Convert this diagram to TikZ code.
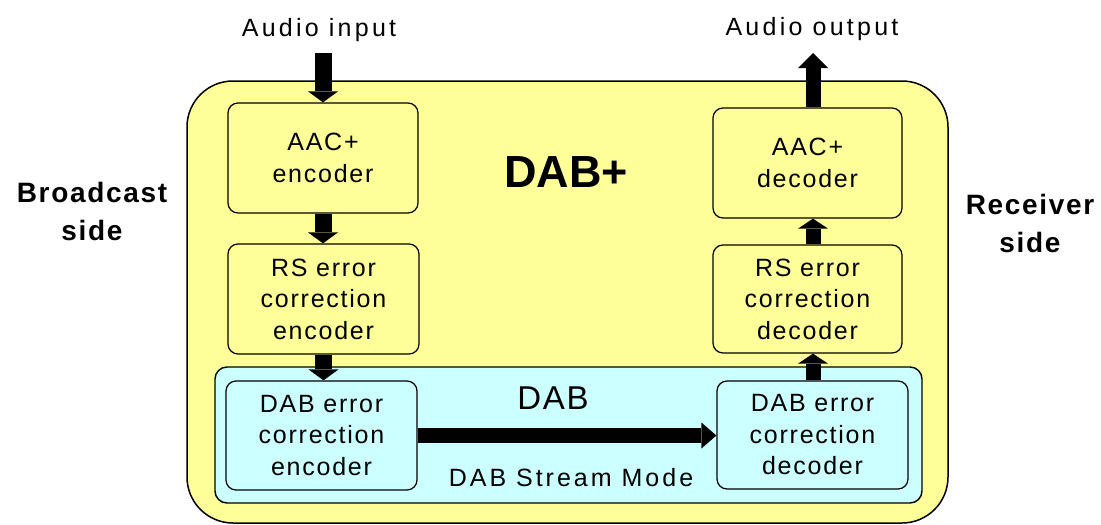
\documentclass[tikz,border=0pt]{standalone}
\usepackage{fontspec}
\setmainfont{Liberation Sans}
\newfontfamily\boxfont[LetterSpace=7]{Liberation Sans}
\newfontfamily\iofont[LetterSpace=13]{Liberation Sans}
\newfontfamily\sidefont[LetterSpace=6]{Liberation Sans}
\newfontfamily\streamfont[LetterSpace=12]{Liberation Sans}
\newfontfamily\titlefont[LetterSpace=5]{Liberation Sans}
\usetikzlibrary{arrows.meta}
\definecolor{dabyellow}{HTML}{FFFF99}
\definecolor{dabblue}{HTML}{CCFFFF}
\begin{document}
\begin{tikzpicture}[x=1pt,y=-1pt,
  outerbox/.style={draw=black, line width=1.5pt, fill=dabyellow, rounded corners=46pt, inner sep=0pt},
  bluebox/.style={draw=black, line width=1.4pt, fill=dabblue, rounded corners=12pt, inner sep=0pt},
  blk/.style={draw=black, line width=1.2pt, rounded corners=10pt, inner sep=0pt, align=center,
    font=\boxfont\fontsize{25}{31.5}\selectfont},
  iotext/.style={font=\iofont\fontsize{25}{30}\selectfont, inner sep=0pt},
  sidetext/.style={align=center, inner sep=0pt, font=\sidefont\bfseries\fontsize{28}{38}\selectfont},
  downarr/.style={draw=black, line width=17pt, -{Triangle[width=30pt,length=11pt,line width=0pt]}},
  uparr/.style={draw=black, line width=15pt, -{Triangle[width=30pt,length=10pt,line width=0pt]}},
  outarr/.style={draw=black, line width=15pt, -{Triangle[width=30pt,length=15pt,line width=0pt]}},
  horarr/.style={draw=black, line width=15pt, -{Triangle[width=26pt,length=15pt,line width=0pt]}}
]
\useasboundingbox (0,0) rectangle (1101,525);
\fill[white] (0,0) rectangle (1101,525);

% containers
\node[outerbox, minimum width=761pt, minimum height=442pt] (dabplus) at (567.5,302) {};
\node[bluebox, minimum width=707pt, minimum height=136pt] (dab) at (568.5,435) {};

% blocks
\node[blk, minimum width=190pt, minimum height=110pt] (aacenc) at (323,158) {AAC+\\encoder};
\node[blk, minimum width=191pt, minimum height=110pt] (rsenc) at (323.5,299) {RS error\\correction\\encoder};
\node[blk, minimum width=191pt, minimum height=109pt] (dabenc) at (321.5,435.5) {DAB error\\correction\\encoder};
\node[blk, minimum width=189pt, minimum height=110pt] (aacdec) at (807.5,163) {AAC+\\decoder};
\node[blk, minimum width=189pt, minimum height=108pt] (rsdec) at (807.5,299) {RS error\\correction\\decoder};
\node[blk, minimum width=191pt, minimum height=108pt] (dabdec) at (812.5,435) {DAB error\\correction\\decoder};

% labels
\node[iotext, anchor=base] (inlabel) at (319,36) {Audio input};
\node[iotext, anchor=base] (outlabel) at (812,35) {Audio output};
\node[sidetext] (bside) at (92,211) {Broadcast\\side};
\node[sidetext] (rside) at (1030,223) {Receiver\\side};
\node[anchor=base, inner sep=0pt, font=\bfseries\fontsize{45}{50}\selectfont] (dabplustitle) at (566,187) {DAB+};
\node[anchor=base, inner sep=0pt, font=\titlefont\fontsize{33}{38}\selectfont] (dabtitle) at (553,409) {DAB};
\node[anchor=base, inner sep=0pt, font=\streamfont\fontsize{25}{30}\selectfont] (stream) at (571,486) {DAB Stream Mode};

% arrows
\coordinate (inS) at (323,53);
\coordinate (outE) at (813,53);
\draw[downarr] (inS) -- (aacenc.north);
\draw[downarr] (aacenc.south) -- (aacenc.south |- rsenc.north);
\draw[downarr] (rsenc.south) -- (rsenc.south |- dabenc.north);
\draw[horarr] (dabenc.east) -- (dabenc.east -| dabdec.west);
\draw[uparr] (dabdec.north -| outE) -- (rsdec.south -| outE);
\draw[uparr] (rsdec.north -| outE) -- (aacdec.south -| outE);
\draw[outarr] (aacdec.north -| outE) -- (outE);
\end{tikzpicture}
\end{document}
